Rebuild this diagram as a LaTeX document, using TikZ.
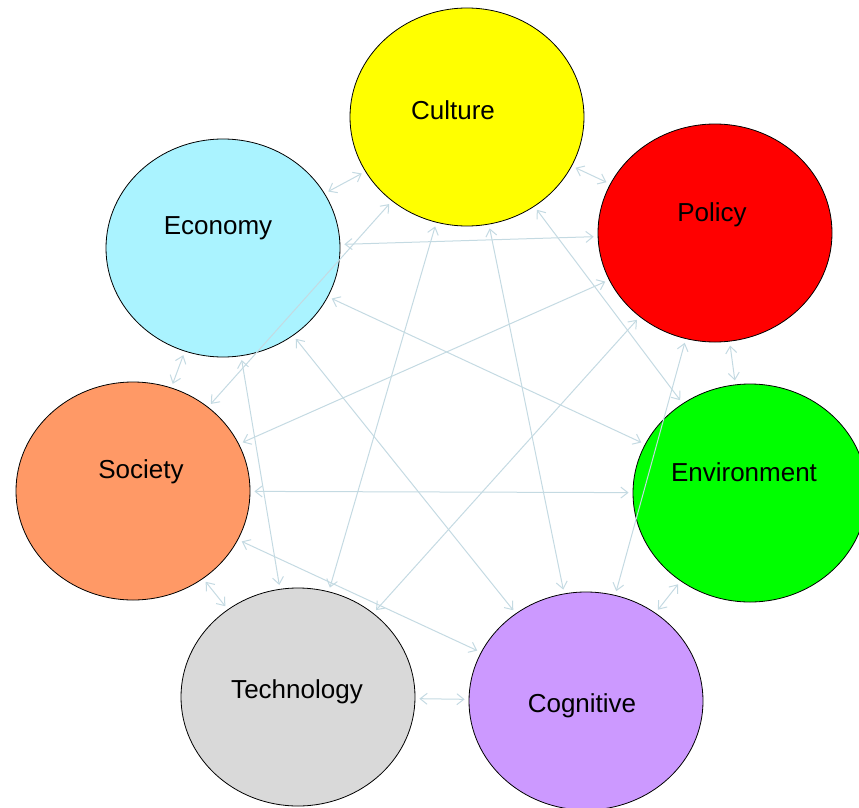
\documentclass[tikz,border=0pt]{standalone}
\usepackage{fontspec}
\setmainfont{Liberation Sans}
\usepackage{tikz}
\usetikzlibrary{shapes.geometric,arrows.meta,positioning}

\definecolor{cultureyellow}{RGB}{255,255,0}
\definecolor{policyred}{RGB}{255,0,0}
\definecolor{envgreen}{RGB}{0,255,0}
\definecolor{coglilac}{RGB}{204,153,255}
\definecolor{techgray}{RGB}{217,217,217}
\definecolor{socorange}{RGB}{255,153,102}
\definecolor{econcyan}{RGB}{170,243,255}
\definecolor{linkblue}{RGB}{196,218,226}

\begin{document}
\begin{tikzpicture}[
    x=1pt, y=-1pt,
    topic/.style={ellipse, draw=black, line width=0.8pt, minimum width=234pt, minimum height=218pt, inner sep=0pt},
    every label/.style={font=\fontsize{26}{31}\selectfont, inner sep=0pt},
    link/.style={{Straight Barb[length=7pt,width=11pt]}-{Straight Barb[length=7pt,width=11pt]}, draw=linkblue, line width=1pt, shorten >=4pt, shorten <=4pt}
]
\useasboundingbox (0,0) rectangle (859,808);

% Topic circles
\node (culture) [topic, fill=cultureyellow, label={[xshift=-14pt, yshift=7pt]center:Culture}] at (467,117) {};
\node (policy) [topic, fill=policyred, label={[xshift=-3pt, yshift=18pt]center:Policy}] at (715,233) {};
\node (environment) [topic, fill=envgreen, label={[xshift=-6pt, yshift=21pt]center:Environment}] at (750,493) {};
\node (cognitive) [topic, fill=coglilac, label={[xshift=-4pt, yshift=-5pt]center:Cognitive}] at (586,701) {};
\node (technology) [topic, fill=techgray, label={[xshift=-1pt, yshift=5pt]center:Technology}] at (298,697) {};
\node (society) [topic, fill=socorange, label={[xshift=8pt, yshift=19pt]center:Society}] at (133,491) {};
\node (economy) [topic, fill=econcyan, label={[xshift=-5pt, yshift=20pt]center:Economy}] at (223,248) {};

% Links from Culture
\draw [link] (culture) -- (policy);
\draw [link] (culture) -- (environment);
\draw [link] (culture) -- (cognitive);
\draw [link] (culture) -- (technology);
\draw [link] (culture) -- (society);
\draw [link] (culture) -- (economy);

% Links from Policy
\draw [link] (policy) -- (environment);
\draw [link] (policy) -- (cognitive);
\draw [link] (policy) -- (technology);
\draw [link] (policy) -- (society);
\draw [link] (policy) -- (economy);

% Links from Environment
\draw [link] (environment) -- (cognitive);
\draw [link] (environment) -- (society);
\draw [link] (environment) -- (economy);

% Links from Cognitive
\draw [link] (cognitive) -- (technology);
\draw [link] (cognitive) -- (society);
\draw [link] (cognitive) -- (economy);

% Remaining links
\draw [link] (technology) -- (society);
\draw [link] (technology) -- (economy);
\draw [link] (society) -- (economy);

\end{tikzpicture}
\end{document}
